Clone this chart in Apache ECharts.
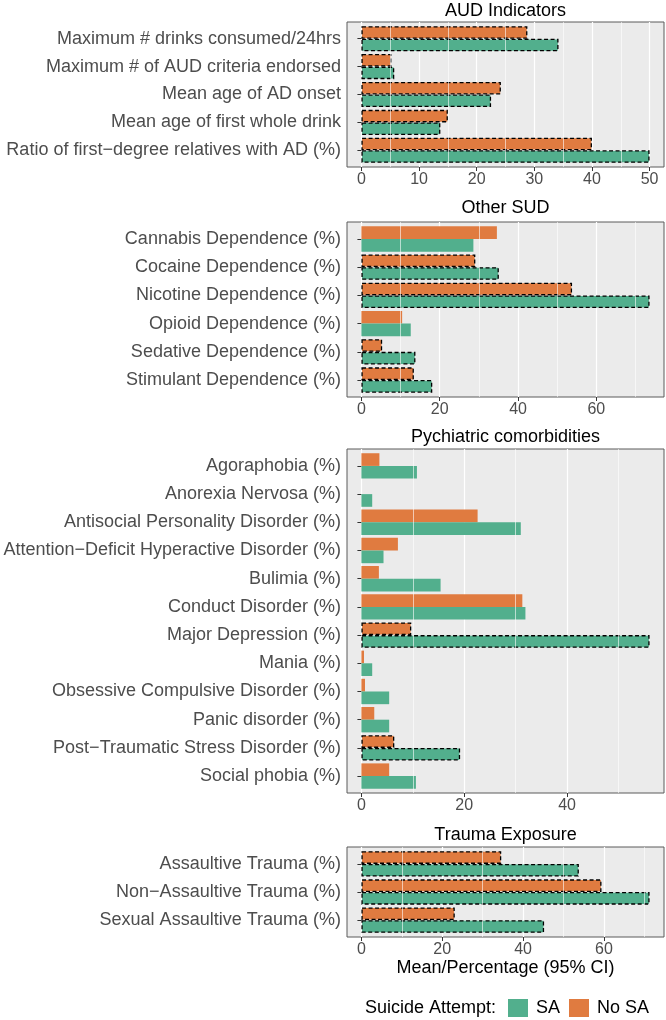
<!DOCTYPE html>
<html><head><meta charset="utf-8">
<script src="https://cdn.jsdelivr.net/npm/echarts@6/dist/echarts.min.js"></script>
<style>html,body{margin:0;padding:0;background:#fff}#c{width:666px;height:1020px}</style>
</head><body><div id="c"></div>
<script>
// ---- Data ----
const audCategories = ['Maximum # drinks consumed/24hrs','Maximum # of AUD criteria endorsed','Mean age of AD onset','Mean age of first whole drink','Ratio of first\u2212degree relatives with AD (%)'];
const audSA   = [34.2, 5.7, 22.5, 13.7, 50.0];
const audNoSA = [28.8, 5.2, 24.2, 15.0, 40.0];
const audSig  = [true, true, true, true, true];
const audTicks = [0, 10, 20, 30, 40, 50];

const sudCategories = ['Cannabis Dependence (%)','Cocaine Dependence (%)','Nicotine Dependence (%)','Opioid Dependence (%)','Sedative Dependence (%)','Stimulant Dependence (%)'];
const sudSA   = [28.6, 35.1, 73.6, 12.6, 13.8, 18.1];
const sudNoSA = [34.6, 29.1, 53.8, 10.4, 5.3, 13.4];
const sudSig  = [false, true, true, false, true, true];
const sudTicks = [0, 20, 40, 60];

const psyCategories = ['Agoraphobia (%)','Anorexia Nervosa (%)','Antisocial Personality Disorder (%)','Attention\u2212Deficit Hyperactive Disorder (%)','Bulimia (%)','Conduct Disorder (%)','Major Depression (%)','Mania (%)','Obsessive Compulsive Disorder (%)','Panic disorder (%)','Post\u2212Traumatic Stress Disorder (%)','Social phobia (%)'];
const psySA   = [10.8, 2.1, 31.0, 4.3, 15.4, 31.9, 56.05, 2.1, 5.4, 5.4, 19.2, 10.6];
const psyNoSA = [3.5, 0, 22.6, 7.1, 3.4, 31.3, 9.7, 0.5, 0.7, 2.5, 6.4, 5.4];
const psySig  = [false, false, false, false, false, false, true, false, false, false, true, false];
const psyTicks = [0, 20, 40];

const trCategories = ['Assaultive Trauma (%)','Non\u2212Assaultive Trauma (%)','Sexual Assaultive Trauma (%)'];
const trSA   = [53.8, 71.3, 45.2];
const trNoSA = [34.6, 59.4, 23.1];
const trSig  = [true, true, true];
const trTicks = [0, 20, 40, 60];

const panelTitles = ['AUD Indicators', 'Other SUD', 'Pychiatric comorbidities', 'Trauma Exposure'];
const xTitle = 'Mean/Percentage (95% CI)';
const legendTitle = 'Suicide Attempt:';
const seriesNames = ['SA', 'No SA'];

// ---- Layout / style ----
const FONT = '"Liberation Sans", Arial, Helvetica, sans-serif';
const GREEN = '#52AF8D', ORANGE = '#E07B40';
const PANEL_LEFT = 347, PANEL_RIGHT = 2;
const panels = [
  {cats: audCategories, sa: audSA, no: audNoSA, sig: audSig, ticks: audTicks, top: 22, bottom: 167, titleY: 11},
  {cats: sudCategories, sa: sudSA, no: sudNoSA, sig: sudSig, ticks: sudTicks, top: 222, bottom: 397, titleY: 208},
  {cats: psyCategories, sa: psySA, no: psyNoSA, sig: psySig, ticks: psyTicks, top: 449, bottom: 793, titleY: 437},
  {cats: trCategories, sa: trSA, no: trNoSA, sig: trSig, ticks: trTicks, top: 847, bottom: 937, titleY: 835}
];

const grid = [], xAxis = [], yAxis = [], series = [], graphic = [];
const dashStyle = {borderColor: '#000', borderWidth: 1.3, borderType: [4, 2.5]};

panels.forEach((p, i) => {
  const n = p.cats.length;
  const mx = Math.max(...p.sa, ...p.no);
  const lo = -0.05 * mx, hi = 1.05 * mx;
  const H = p.bottom - p.top;
  const u = H / (n + 0.2);
  const step = p.ticks[1] - p.ticks[0];
  const minors = [];
  for (let v = p.ticks[0] + step / 2; v < hi; v += step) minors.push(v);

  // background panel grid
  const bg = grid.length;
  grid.push({left: PANEL_LEFT, right: PANEL_RIGHT, top: p.top, height: H, show: true,
    backgroundColor: '#EBEBEB', borderColor: '#5a5a5a', borderWidth: 1, containLabel: false});
  xAxis.push({type: 'value', gridIndex: bg, min: lo, max: hi,
    axisLine: {show: false},
    axisTick: {show: true, length: 4, lineStyle: {color: '#333', width: 1}, customValues: p.ticks},
    axisLabel: {show: true, customValues: p.ticks, fontFamily: FONT, fontSize: 16, color: '#4D4D4D', margin: 5},
    splitLine: {show: true, lineStyle: {color: '#fff', width: 1.2}},
    name: i === panels.length - 1 ? xTitle : '',
    nameLocation: 'middle', nameGap: 31,
    nameTextStyle: {fontFamily: FONT, fontSize: 18, color: '#000', verticalAlign: 'middle'}
  });
  yAxis.push({type: 'value', gridIndex: bg, min: 0, max: 1, show: false, splitLine: {show: false}});
  series.push({type: 'scatter', xAxisIndex: bg, yAxisIndex: bg, data: [], silent: true,
    markLine: {silent: true, symbol: 'none', label: {show: false},
      lineStyle: {color: '#fff', width: 0.6, type: 'solid'},
      data: minors.map(v => ({xAxis: v}))}});

  // data grid
  const dg = grid.length;
  grid.push({left: PANEL_LEFT, right: PANEL_RIGHT, top: p.top + 0.1 * u, height: n * u, containLabel: false});
  xAxis.push({type: 'value', gridIndex: dg, min: lo, max: hi, show: false, splitLine: {show: false}});
  yAxis.push({type: 'category', gridIndex: dg, data: p.cats, inverse: true,
    axisLine: {show: false},
    axisTick: {show: true, alignWithLabel: true, length: 4, lineStyle: {color: '#333', width: 1}},
    axisLabel: {fontFamily: FONT, fontSize: 18, color: '#4D4D4D', margin: 6},
    splitLine: {show: false}});

  const mk = (vals) => vals.map((v, k) => ({value: v, itemStyle: p.sig[k] ? dashStyle : {borderWidth: 0}}));
  series.push({type: 'bar', name: seriesNames[1], xAxisIndex: dg, yAxisIndex: dg, data: mk(p.no),
    itemStyle: {color: ORANGE}, barGap: '0%', barCategoryGap: '10%', silent: true});
  series.push({type: 'bar', name: seriesNames[0], xAxisIndex: dg, yAxisIndex: dg, data: mk(p.sa),
    itemStyle: {color: GREEN}, barGap: '0%', barCategoryGap: '10%', silent: true});

  graphic.push({type: 'text', x: PANEL_LEFT + (666 - PANEL_RIGHT - PANEL_LEFT) / 2, y: p.titleY,
    style: {text: panelTitles[i], fill: '#000', font: '18px ' + FONT, align: 'center', verticalAlign: 'middle'}});
});

graphic.push({type: 'text', x: 365, y: 1008,
  style: {text: legendTitle, fill: '#000', font: '18px ' + FONT, align: 'left', verticalAlign: 'middle'}});

const chart = echarts.init(document.getElementById('c'), null, {renderer: 'canvas'});
chart.setOption({
  animation: false,
  backgroundColor: '#fff',
  grid, xAxis, yAxis, series, graphic,
  legend: {data: seriesNames, left: 508, top: 999, padding: 0, itemWidth: 20, itemHeight: 18, itemGap: 9,
    icon: 'rect', textStyle: {fontFamily: FONT, fontSize: 18, color: '#000', padding: [0, 0, 0, 3]}, selectedMode: false}
});
</script>
</body></html>
